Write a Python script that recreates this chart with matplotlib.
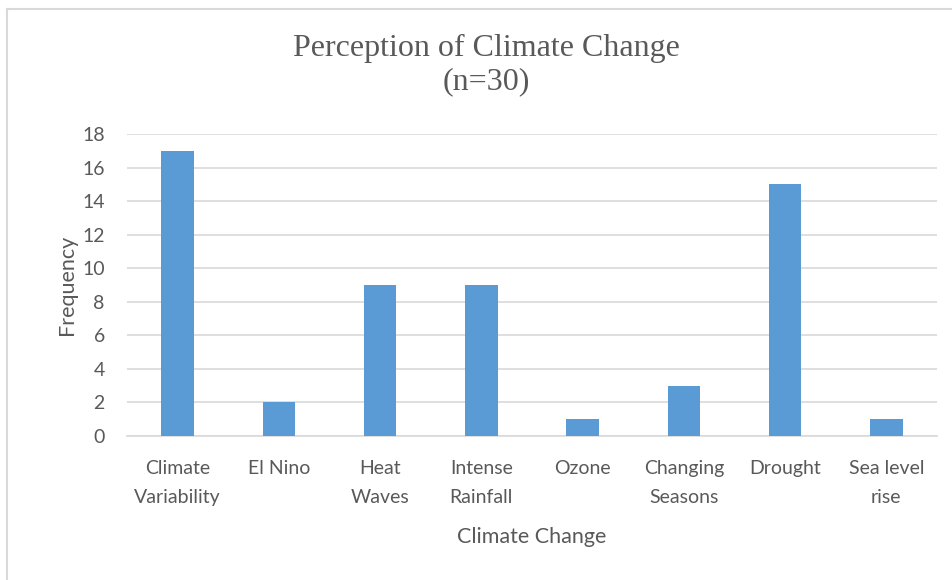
import matplotlib.pyplot as plt
from matplotlib.lines import Line2D
import numpy as np

categories = ["Climate\nVariability", "El Nino", "Heat\nWaves", "Intense\nRainfall",
              "Ozone", "Changing\nSeasons", "Drought", "Sea level\nrise"]
frequency = [17, 2, 9, 9, 1, 3, 15, 1]
y_ticks = [0, 2, 4, 6, 8, 10, 12, 14, 16, 18]

text_color = "#595959"
grid_color = "#d9d9d9"
bar_color = "#5b9bd5"

plt.rcParams["font.family"] = ["Lato", "DejaVu Sans"]

fig = plt.figure(figsize=(9.52, 5.8), dpi=100)
ax = fig.add_axes([127 / 952, 1 - 436 / 580, 810 / 952, 302 / 580])

x = np.arange(len(categories))
ax.bar(x, frequency, width=0.32, color=bar_color, zorder=3)

ax.set_xlim(-0.5, len(categories) - 0.5)
ax.set_ylim(0, 18)
ax.set_yticks(y_ticks)
ax.set_xticks(x)
ax.set_xticklabels(categories, fontsize=14, color=text_color, linespacing=1.85)
ax.tick_params(axis="y", labelsize=14, labelcolor=text_color, length=0, pad=16)
ax.tick_params(axis="x", length=0, pad=17)
ax.grid(axis="y", color=grid_color, linewidth=1.2, zorder=0)

for side in ["top", "right", "left"]:
    ax.spines[side].set_visible(False)
ax.spines["bottom"].set_color(grid_color)
ax.spines["bottom"].set_linewidth(1.2)

ax.set_ylabel("Frequency", fontsize=15.5, color=text_color, labelpad=4)
ax.set_xlabel("Climate Change", fontsize=15.5, color=text_color, labelpad=15.5)

# two-line title in serif
fig.text(486 / 952, 1 - 48 / 580, "Perception of Climate Change",
         ha="center", va="center", fontsize=23, color=text_color,
         family="Liberation Serif")
fig.text(486 / 952, 1 - 82 / 580, "(n=30)",
         ha="center", va="center", fontsize=23, color=text_color,
         family="Liberation Serif")

# chart area border (top and left edges only)
fig.add_artist(Line2D([7 / 952, 1], [1 - 8.5 / 580, 1 - 8.5 / 580],
                      transform=fig.transFigure, color=grid_color, linewidth=1.5))
fig.add_artist(Line2D([7 / 952, 7 / 952], [0, 1 - 8.5 / 580],
                      transform=fig.transFigure, color=grid_color, linewidth=1.5))

fig.savefig("out.png", dpi=100, facecolor="white")
